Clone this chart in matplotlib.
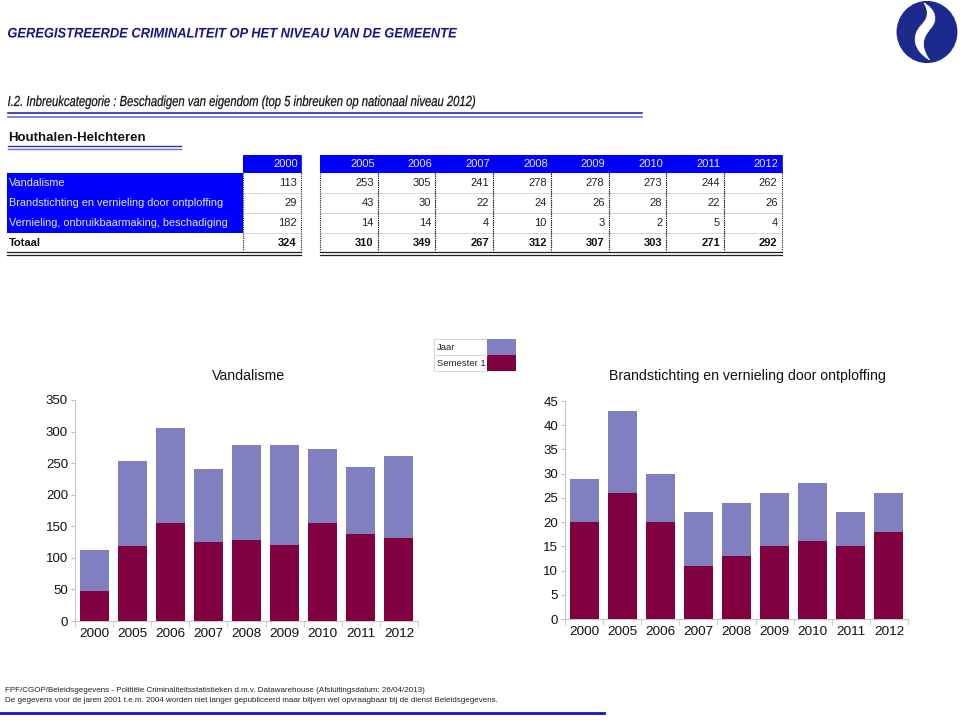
import matplotlib
matplotlib.use("Agg")
import matplotlib.pyplot as plt
from matplotlib.patches import Rectangle, Ellipse, PathPatch
from matplotlib.path import Path
from matplotlib.lines import Line2D
from matplotlib.textpath import TextPath
from matplotlib.font_manager import FontProperties
from matplotlib.transforms import Affine2D

plt.rcParams['font.family'] = ['Liberation Sans', 'DejaVu Sans']

# ---------------- data ----------------
years = ['2000', '2005', '2006', '2007', '2008', '2009', '2010', '2011', '2012']
row_labels = ['Vandalisme',
              'Brandstichting en vernieling door ontploffing',
              'Vernieling, onbruikbaarmaking, beschadiging']
vandalisme = [113, 253, 305, 241, 278, 278, 273, 244, 262]
brandstichting = [29, 43, 30, 22, 24, 26, 28, 22, 26]
vernieling = [182, 14, 14, 4, 10, 3, 2, 5, 4]
totaal = [324, 310, 349, 267, 312, 307, 303, 271, 292]
vandalisme_sem1 = [48, 119, 155, 125, 128, 121, 155, 137, 131]
brandstichting_sem1 = [20, 26, 20, 11, 13, 15, 16, 15, 18]

header_title = 'GEREGISTREERDE CRIMINALITEIT OP HET NIVEAU VAN DE GEMEENTE'
section_title = 'I.2. Inbreukcategorie : Beschadigen van eigendom (top 5 inbreuken op nationaal niveau 2012)'
place = 'Houthalen-Helchteren'
legend_labels = ['Jaar', 'Semester 1']
footer_lines = [
    'FPF/CGOP/Beleidsgegevens - Politiële Criminaliteitsstatistieken d.m.v. Datawarehouse (Afsluitingsdatum: 26/04/2013)',
    'De gegevens voor de jaren 2001 t.e.m. 2004 worden niet langer gepubliceerd maar blijven wel opvraagbaar bij de dienst Beleidsgegevens.',
]

JAAR_C = '#8080c0'
SEM_C = '#800040'
NAVY = '#16168a'
BLUE = '#0000ff'

W, H = 960, 720
fig = plt.figure(figsize=(W / 100, H / 100), dpi=100)

def fx(x):
    return x / W

def fy(y):
    return 1 - y / H

def hline(x0, x1, y, **kw):
    fig.add_artist(Line2D([fx(x0), fx(x1)], [fy(y), fy(y)], transform=fig.transFigure, **kw))

def vline(x, y0, y1, **kw):
    fig.add_artist(Line2D([fx(x), fx(x)], [fy(y0), fy(y1)], transform=fig.transFigure, **kw))

def rect(x0, y0, x1, y1, **kw):
    fig.add_artist(Rectangle((fx(x0), fy(y1)), fx(x1) - fx(x0), fy(y0) - fy(y1),
                             transform=fig.transFigure, **kw))

def condensed_text(s, x_left, y_base, size_pt, width_px, color, weight='normal',
                   style='normal', stroke=0.0):
    """Text drawn as a path, compressed horizontally to width_px (pixel coords from top)."""
    prop = FontProperties(family='Liberation Sans', weight=weight, style=style)
    size_px = size_pt * 100 / 72
    tp = TextPath((0, 0), s, size=size_px, prop=prop)
    ext = tp.get_extents()
    sx = width_px / ext.width
    tr = Affine2D().translate(-ext.x0, 0).scale(sx, 1.0).translate(x_left, H - y_base)
    fig.add_artist(PathPatch(tp, transform=tr, facecolor=color,
                             edgecolor=color if stroke > 0 else 'none', lw=stroke))

# ---------------- header ----------------
condensed_text(header_title, 8, 37.5, 10, 449, NAVY, weight='bold', style='italic')

# logo
lax = fig.add_axes([fx(896), fy(63), fx(958) - fx(896), fy(1) - fy(63)])
lax.set_xlim(0, 1)
lax.set_ylim(0, 1)
lax.axis('off')
lax.add_patch(Ellipse((0.5, 0.5), 0.96, 0.98, color='#1c2a8e'))
flame = Path([(0.54, 0.05), (0.26, 0.22), (0.26, 0.45), (0.40, 0.60),
              (0.54, 0.74), (0.52, 0.86), (0.45, 0.97),
              (0.64, 0.86), (0.68, 0.70), (0.56, 0.56),
              (0.44, 0.42), (0.38, 0.28), (0.54, 0.05)],
             [Path.MOVETO, Path.CURVE4, Path.CURVE4, Path.CURVE4,
              Path.CURVE4, Path.CURVE4, Path.CURVE4,
              Path.CURVE4, Path.CURVE4, Path.CURVE4,
              Path.CURVE4, Path.CURVE4, Path.CURVE4])
lax.add_patch(PathPatch(flame, facecolor='white', edgecolor='white', lw=0.5))

condensed_text(section_title, 8, 106, 10.5, 467, '#111111', style='italic', stroke=0.15)
hline(8, 642, 113, color='#2a2ab0', lw=1.2)
hline(8, 642, 116.5, color='#7070d0', lw=1.2)

fig.text(fx(8), fy(138), place, fontsize=9.5, fontweight='bold',
         color='#111111', ha='left', va='center')
hline(8, 181, 146, color='#3030b0', lw=1.0)
hline(8, 181, 149, color='#7070d0', lw=1.0)

# ---------------- table ----------------
cell_w = 57.7
col_x0 = [243] + [320 + i * cell_w for i in range(len(years) - 1)]
hdr_y0, hdr_y1 = 155, 173
row_h = 20
label_x0, label_x1 = 7, 243

for x0, yr in zip(col_x0, years):
    rect(x0, hdr_y0, x0 + cell_w, hdr_y1, facecolor=BLUE, edgecolor='none')
    vline(x0 + cell_w, hdr_y0, hdr_y1, color='#1010a0', lw=0.6)
    fig.text(fx(x0 + cell_w - 3), fy((hdr_y0 + hdr_y1) / 2), yr, fontsize=8,
             color='#e8e8f0', ha='right', va='center')

rect(label_x0, hdr_y1, label_x1, hdr_y1 + 3 * row_h, facecolor=BLUE, edgecolor='none')

table_rows = [vandalisme, brandstichting, vernieling]
for r, (lab, vals) in enumerate(zip(row_labels, table_rows)):
    yc = hdr_y1 + r * row_h + row_h / 2
    fig.text(fx(9), fy(yc), lab, fontsize=7.8, color='#e8e8f0', ha='left', va='center')
    for x0, v in zip(col_x0, vals):
        fig.text(fx(x0 + cell_w - 4), fy(yc), str(v), fontsize=8, color='#222222',
                 ha='right', va='center')
yc = hdr_y1 + 3 * row_h + row_h / 2
fig.text(fx(9), fy(yc), 'Totaal', fontsize=8, fontweight='bold', color='#111111',
         ha='left', va='center')
for x0, v in zip(col_x0, totaal):
    fig.text(fx(x0 + cell_w - 4), fy(yc), str(v), fontsize=8, fontweight='bold',
             color='#111111', ha='right', va='center')

tbl_bottom = hdr_y1 + 4 * row_h - 2
for k in range(1, 4):
    yy = hdr_y1 + k * row_h
    hline(243, 301, yy, color='#d0d0d0', lw=0.6)
    hline(320, 782, yy, color='#d0d0d0', lw=0.6)
for x0 in col_x0:
    vline(x0, hdr_y1, tbl_bottom, color='#202020', lw=0.8, ls=(0, (1, 1)))
    vline(x0 + cell_w, hdr_y1, tbl_bottom, color='#202020', lw=0.8, ls=(0, (1, 1)))
for (a, b) in [(7, 301), (320, 782)]:
    hline(a, b, tbl_bottom + 0.5, color='#202020', lw=0.9)
    hline(a, b, tbl_bottom + 3.5, color='#202020', lw=0.9)

# ---------------- legend ----------------
rect(434, 339, 487, 371, facecolor='white', edgecolor='#d0d0d0', lw=0.6)
hline(434, 487, 355, color='#d0d0d0', lw=0.6)
rect(487, 339, 516, 355, facecolor=JAAR_C, edgecolor='none')
rect(487, 355, 516, 371, facecolor=SEM_C, edgecolor='none')
fig.text(fx(437), fy(347), legend_labels[0], fontsize=6.8, color='#222222', ha='left', va='center')
fig.text(fx(437), fy(363), legend_labels[1], fontsize=6.8, color='#222222', ha='left', va='center')

# ---------------- charts ----------------
def bar_chart(box, jaar, sem, ymax, step, title, title_x):
    x0, y0, x1, y1 = box
    ax = fig.add_axes([fx(x0), fy(y1), fx(x1) - fx(x0), fy(y0) - fy(y1)])
    pos = list(range(len(years)))
    ax.bar(pos, jaar, width=0.76, color=JAAR_C, zorder=2, label=legend_labels[0])
    ax.bar(pos, sem, width=0.76, color=SEM_C, zorder=3, label=legend_labels[1])
    ax.set_xlim(-0.5, len(years) - 0.5)
    ax.set_ylim(0, ymax)
    ax.set_yticks(list(range(0, ymax + 1, step)))
    ax.set_xticks(pos)
    ax.set_xticklabels(years)
    ax.set_xticks([p - 0.5 for p in pos] + [len(years) - 0.5], minor=True)
    ax.tick_params(axis='x', which='major', length=0, pad=5, labelsize=9.7, labelcolor='#111111')
    ax.tick_params(axis='x', which='minor', length=4, color='#e0c8d0', width=0.8)
    ax.tick_params(axis='y', which='major', length=3, color='#c0c0c0', width=0.8,
                   labelsize=9.5, labelcolor='#111111', pad=2)
    for s in ['top', 'right']:
        ax.spines[s].set_visible(False)
    for s in ['left', 'bottom']:
        ax.spines[s].set_color('#c8c8c8')
        ax.spines[s].set_linewidth(0.8)
    fig.text(fx(title_x), fy(376), title, fontsize=10.2, color='#111111',
             ha='center', va='center')
    return ax

bar_chart((75, 400, 418, 621), vandalisme, vandalisme_sem1, 350, 50, 'Vandalisme', 248)
bar_chart((565, 401, 908, 619), brandstichting, brandstichting_sem1, 45, 5,
          'Brandstichting en vernieling door ontploffing', 747)

# ---------------- footer ----------------
fig.text(fx(5), fy(690), footer_lines[0], fontsize=5.8, color='#222222', ha='left', va='center')
fig.text(fx(5), fy(701), footer_lines[1], fontsize=5.8, color='#222222', ha='left', va='center')
hline(0, 604, 713, color='#1515c8', lw=2)

fig.savefig('out.png', dpi=100)
